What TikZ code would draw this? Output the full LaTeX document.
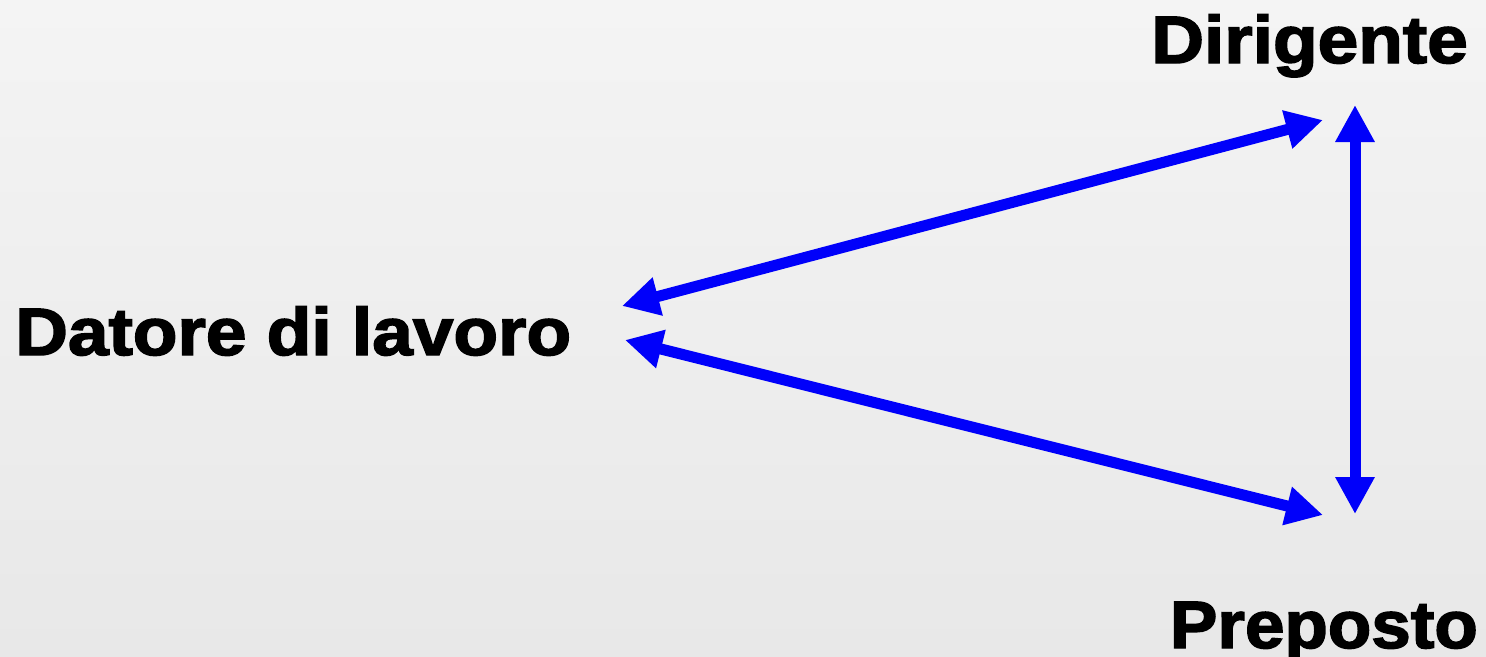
\documentclass[tikz,border=0pt]{standalone}
\usepackage{fontspec}
\usepackage{graphicx}
\setmainfont{Liberation Sans}[BoldFeatures={FakeBold=2.2}]
\usetikzlibrary{arrows.meta}
\definecolor{arrowblue}{RGB}{0,0,250}
\definecolor{bgtop}{RGB}{244,244,244}
\definecolor{bgbot}{RGB}{232,232,232}
\begin{document}
\begin{tikzpicture}[x=1pt,y=-1pt,
  lbl/.style={inner sep=0pt,font=\fontsize{67}{67}\selectfont\bfseries,text=black},
  link/.style={draw=arrowblue,line width=11pt,{Triangle[length=37pt,width=37pt]}-{Triangle[length=37pt,width=37pt]}}]
\shade[top color=bgtop,bottom color=bgbot] (0,0) rectangle (1486,656);
\useasboundingbox (0,0) rectangle (1486,656);
\node[lbl,anchor=base west] (dat) at (15,355) {\scalebox{1.09}[1]{Datore di lavoro}};
\node[lbl,anchor=base east] (dir) at (1468,63) {\scalebox{1.09}[1]{Dirigente}};
\node[lbl,anchor=base east] (pre) at (1478,648) {\scalebox{1.06}[1]{Preposto}};
\coordinate (d1) at (622,306);
\coordinate (d2) at (625,340);
\coordinate (r1) at (1323,120);
\coordinate (p1) at (1323,515);
\coordinate (vt) at (1355,105);
\coordinate (vb) at (1355,514);
\draw[link] (d1) -- (r1);
\draw[link] (d2) -- (p1);
\draw[link] (vt) -- (vb);
\end{tikzpicture}
\end{document}
